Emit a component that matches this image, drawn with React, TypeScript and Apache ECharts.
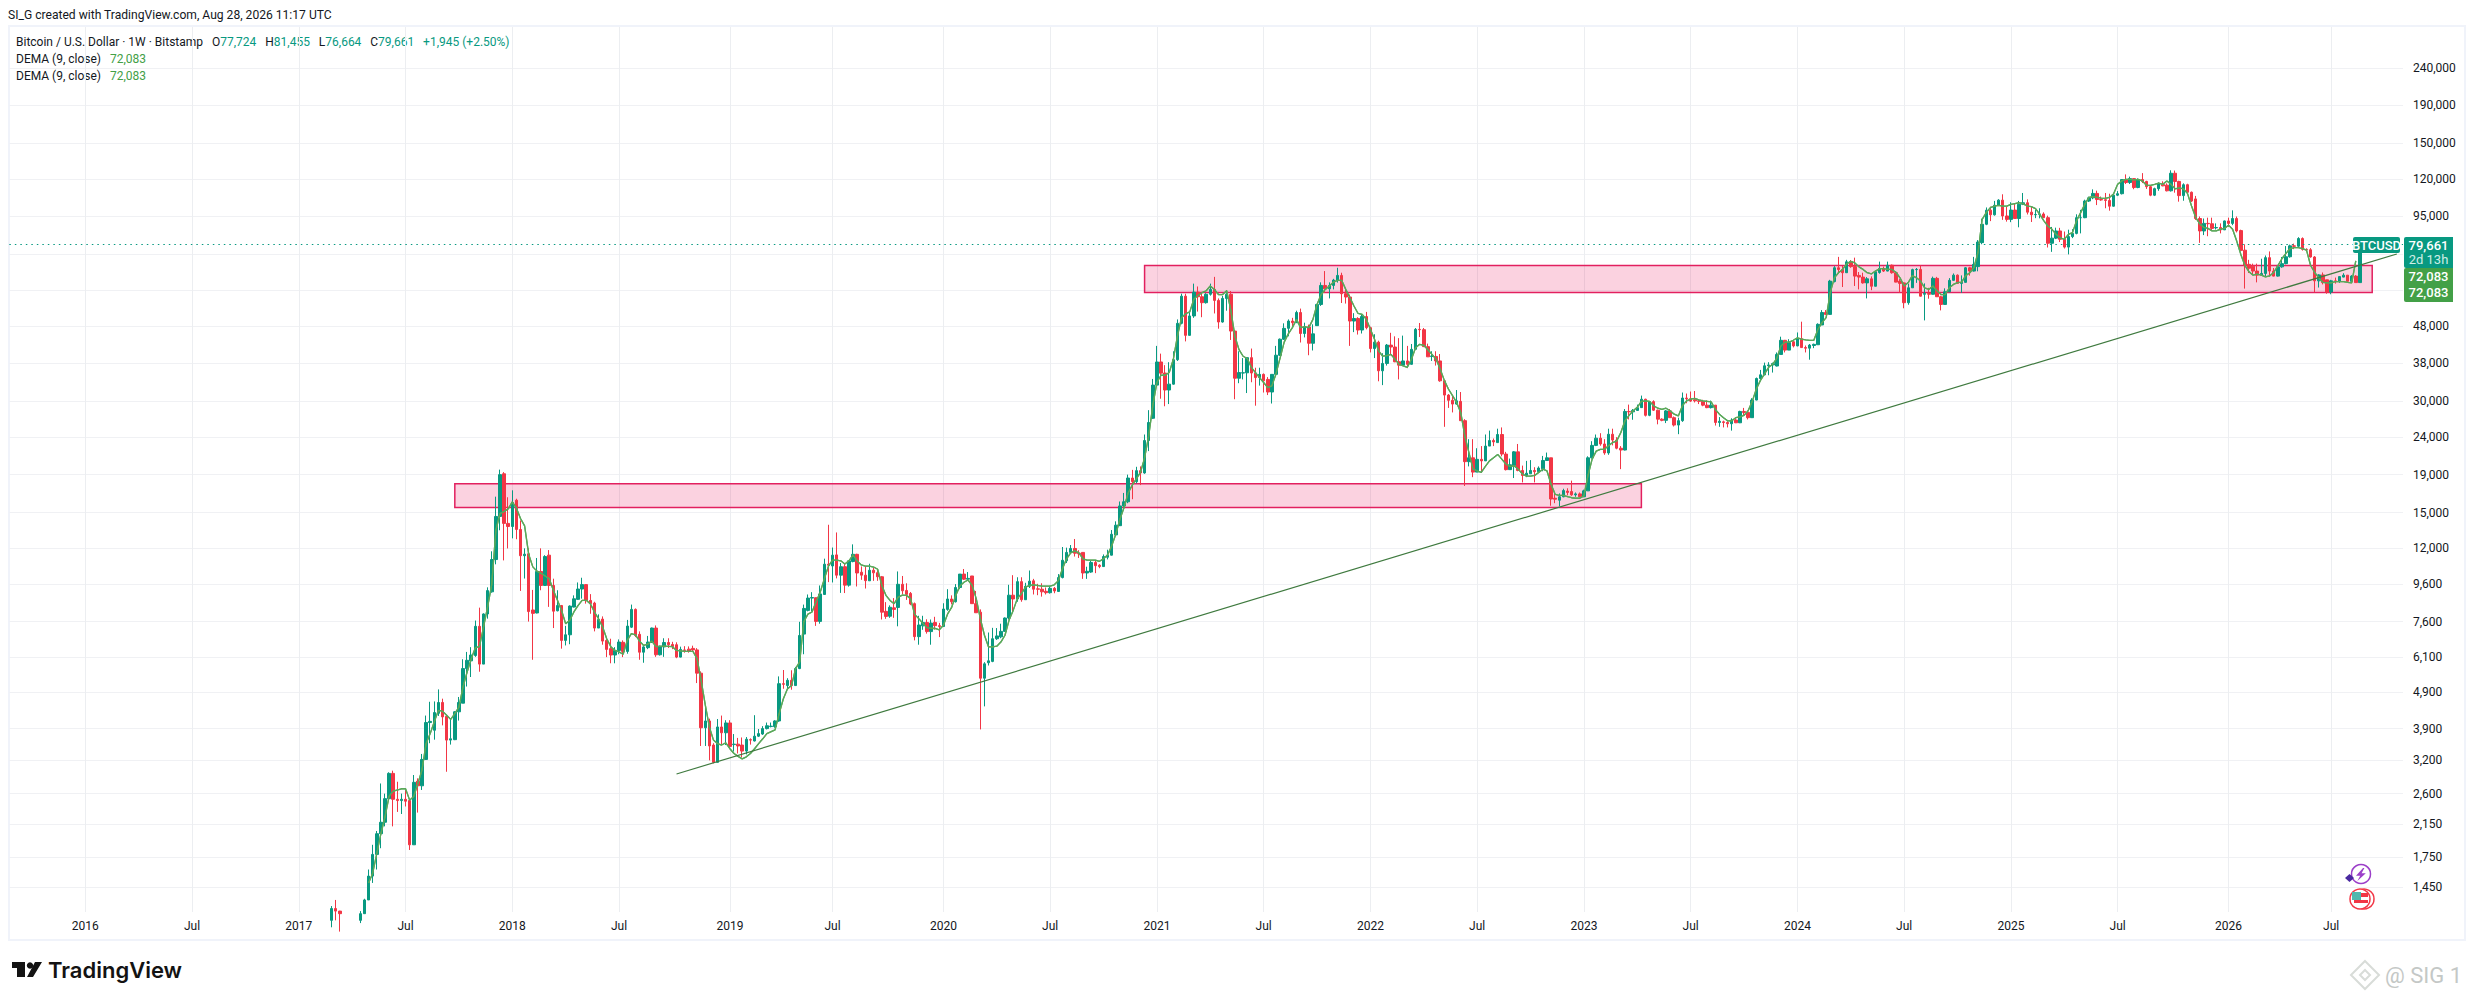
import React, { useEffect, useRef } from "react";
import * as echarts from "echarts";

// Candles: [open, close, low, high], one row per visible week, in order.
const bars2017 = [
[1180,1270,1130,1290],[1270,1250,1180,1340],[1250,1230,1100,1252],[1230,1000,930,1235],[1000,1030,950,1060],[1030,1080,1020,1100],[1080,1180,1060,1200],[1180,1230,1160,1250],
[1230,1340,1230,1350],[1340,1555,1340,1620],[1555,1780,1490,1890],[1780,2025,1620,2060],[2025,2175,1850,2770],[2175,2520,2120,2600],[2520,2950,2500,2970],[2950,2510,2120,3000],
[2510,2490,2320,2800],[2490,2510,2290,2600],[2510,2480,2400,2660],[2490,1890,1830,2520],[1890,2790,1890,2920],[2810,2730,2310,2860],[2730,3218,2660,3330],[3218,4050,3210,4230],
[4050,4080,3560,4610],[3860,4310,3640,4620],[4290,4590,4220,4980],[4590,4195,3980,4700],[4210,3630,2980,4230],[3630,3660,3530,4150],[3640,4330,3630,4350],[4330,4590,4100,4750],
[4570,5670,4570,6010],[5670,5970,5070,6290],[5950,6170,5380,6480],[6150,7380,6100,7650],[7380,5830,5560,8290],[5830,7970,5830,8000],[7970,9220,7740,9410],[9150,11190,9100,11780],
[11190,14640,10860,16560],[14640,19000,13430,19600],[19100,14020,11130,19300],[14020,13750,11990,16500]];
const bars2018 = [
[13750,15950,12770,17230],[16200,13500,12700,16350],[13500,11460,9200,14280],[11460,11570,9940,12000],[11600,8090,7600,12000],[8170,8000,5990,9260],[8020,10390,8000,11300],[10390,9520,9240,12000],
[9520,11400,9500,11500],[11500,9520,8330,11870],[9520,8110,7300,9930],[8130,8400,8100,9240],[8400,6760,6420,8430],[6760,7000,6550,7400],[7000,8370,6600,8410],[8320,8760,8300,8950],
[8730,9310,8700,9700],[9310,9570,8770,9990],[9570,8670,8500,9600],[8670,8500,7980,9020],[8530,7300,7150,8600],[7300,7700,7300,7950],[7720,6730,6580,7850],[6760,6390,6090,6830],
[6420,6170,5860,6830],[6170,6350,5860,6480],[6350,6690,6200,6800],[6680,6310,6090,6760],[6310,7390,6220,7680],[7340,8200,7300,8450],[8200,6970,6900,8250],[7020,6280,5990,7150],
[6280,6490,5880,6520],[6460,6690,6400,6950],[6690,7300,6650,7320],[7300,6180,6100,7420],[6180,6520,6150,6540],[6490,6670,6100,6850],[6670,6580,6450,6850],[6590,6500,6400,6700],
[6580,6090,6050,6680],[6090,6390,6080,6500],[6370,6350,6260,6520],[6400,6320,6260,6510],[6430,6370,6300,6540],[6370,5510,5180,6440],[5510,3920,3500,5570],[3920,4090,3500,4490],
[4090,3500,3200,4150],[3520,3160,3140,3560],[3160,3940,3160,4140],[3940,3800,3530,4230],[3800,4040,3520,4110]];
const bars2019 = [
[4040,3490,3450,4110],[3530,3540,3380,3770],[3540,3500,3340,3680],[3520,3390,3260,3690],[3390,3650,3320,3700],[3640,3630,3530,3670],[3610,3720,3600,4240],[3720,3780,3700,3890],
[3770,3900,3750,3960],[3900,3970,3880,4050],[3950,3960,3930,4050],[3950,4090,3920,4110],[4090,5160,4070,5400],[5160,5140,5000,5620],[5100,5270,5000,5340],[5270,5100,4970,5610],
[5100,5670,5090,5730],[5670,6970,5650,7590],[7030,8250,6200,8450],[8150,8800,8100,9000],[8800,8830,8100,9130],[8820,7610,7400,8820],[7610,9030,7500,9520],[9000,10870,8970,11250],
[10870,10800,9720,13900],[10750,11500,9700,12060],[11520,10150,9950,13250],[10150,10700,9090,10950],[10700,9540,9080,10950],[9540,11100,9450,11100],[11050,11560,11000,12300],[11560,10290,9460,11600],
[10340,10150,9860,10720],[10150,9810,9340,10720],[9800,10470,9800,10900],[10470,10300,9800,10650],[10310,10050,9800,10530],[10050,8060,7700,10100],[8100,7850,7730,8580],[7860,8310,7780,8410],
[8280,8200,7780,8800],[8300,9590,7380,10390],[9590,9210,9000,10100],[9230,9000,8700,9650],[9060,8480,8420,9140],[8500,6920,6760,8560],[6920,7440,6580,7880],[7400,7560,7220,7880],
[7560,7140,7050,7710],[7140,7530,6580,7700],[7560,7410,7230,7830],[7410,7370,6900,7540]];
const bars2020 = [
[7370,8220,7370,8520],[8200,8750,8130,9300],[8750,8600,8460,8950],[8600,9400,8560,9600],[9400,10220,9300,10220],[10220,9900,9850,10550],[9900,9950,9800,10350],[10100,8500,8500,10100],
[8500,8030,8030,9200],[8060,5340,3880,8200],[5340,5840,4480,5900],[5880,5950,5780,7100],[5930,6830,5900,7310],[6830,6950,6780,7300],[6910,7150,6850,7500],[7150,7770,7150,7800],
[7770,8960,7700,9560],[8960,8750,8040,10150],[8750,9750,8600,10020],[9750,8710,8600,10020],[8710,9470,8700,9680],[9470,9780,9370,10450],[9800,9300,9000,9920],[9320,9300,8960,9620],
[9300,9150,8880,9650],[9180,9100,9000,9400],[9100,9350,9050,9500],[9350,9200,9070,9430],[9170,10000,9160,10220],[10000,11140,9950,12100],[11100,11700,10950,12050],[11700,11990,11650,12250],
[11990,11640,11400,12720],[11640,11600,11300,11860],[11700,10290,9920,11700],[10290,10400,9920,10700],[10350,10990,10300,11100],[10990,10770,10280,11100],[10800,10710,10600,10870],[10710,11400,10680,11550],
[11350,11500,11200,11900],[11500,13100,11480,13450],[13050,13860,13000,14200],[13820,15630,13800,16070],[15630,16040,15500,16950],[16040,18600,15900,19000],[18600,18180,16300,19570],[18180,19480,18000,19950]];
const bars2021 = [
[19480,19200,17800,20000],[19200,23500,19100,24400],[23500,26300,22000,28400],[27000,33200,26900,34500],[33200,38350,32900,42400],[38350,35770,30500,40400],[35800,32200,29100,37600],[32200,33400,29500,38300],
[33400,38900,33300,41000],[38900,48800,38600,50000],[48800,57800,48500,58700],[57800,45270,43600,58700],[45270,51100,45300,52100],[51100,59300,50500,62500],[59300,57600,52500,61400],[57600,55500,50700,59400],
[55500,58500,55200,58900],[58500,60300,58000,62500],[60300,56300,51900,65200],[56300,49200,47200,57000],[49200,57000,49000,57900],[57000,58500,52800,60000],[58500,46500,44000,59700],[46500,34660,30400,46800],
[34660,35900,33600,41000],[35800,35850,34400,39300],[35850,39400,31600,39400],[39400,35800,33800,41700],[35800,34800,29200,37000],[34800,35500,33100,37000],[35500,34100,31700,35700],[34400,31800,31200,34900],
[31800,35500,29600,35500],[35500,40000,35200,42400],[40000,44200,39800,44400],[44200,47300,44000,48800],[47300,49500,45000,50000],[49500,49000,47800,50500],[49000,52200,48900,52800],[52200,45800,43300,53500],
[45800,47700,44700,49000],[47700,43100,40000,48400],[43100,45700,41200,48500],[48100,54900,48000,55000],[54900,61800,54400,63000],[61800,60500,59000,67600],[60500,61800,57000,63000],[61800,63900,60300,64400],
[63900,65800,62900,69000],[65800,58700,55400,66900],[58700,57500,55200,60400],[57500,49500,42400,58400]];
const bars2022 = [
[49500,50300,46200,52000],[50300,46800,45500,50700],[46800,50900,45800,51700],[50900,47500,47000,52400],[47500,41700,40700,47800],[41700,43400,39300,45600],[43400,36300,34000,43800],[36300,38000,33200,40500],
[38000,42600,37500,42900],[42600,42100,40000,46000],[42100,38400,38300,45000],[38400,37600,34400,44500],[37600,38600,37400,45200],[38600,37800,36900,42400],[37800,41500,37700,42900],[41500,47000,41500,47400],
[47000,46900,44800,48900],[46900,42200,42100,47400],[42200,39600,39600,43000],[39700,39800,38600,41000],[39700,38600,37500,41000],[38600,34100,33900,40300],[34100,31200,25600,34300],[31200,30200,28800,31400],
[30200,29500,28000,31000],[29500,30100,29400,32200],[30000,26600,26600,31800],[26600,20600,17700,26850],[20600,21100,20000,23700],[21100,19300,18700,23700],[19300,20900,19300,22400],[20900,20700,19200,22700],
[20700,22700,20900,24400],[22700,23500,22700,25000],[23500,23300,22700,23800],[23200,24400,23200,25300],[24400,21600,21300,25500],[21600,19600,19500,21900],[19600,20200,19600,21000],[20100,21900,18600,22000],
[21900,19500,19400,23000],[19500,18900,18100,20100],[18900,19170,18700,20700],[19100,19500,19100,20800],[19500,19350,18100,19900],[19350,19800,19300,20000],[19700,20750,19400,21350],[20750,21100,20700,21800],
[21100,16320,15650,21100],[16400,16300,15900,17000],[16200,16550,15600,16900],[16550,17200,16500,17400],[17150,17000,16700,17450],[17100,16750,16650,18300],[16750,16850,16550,17000],[16850,16550,16500,17000]];
const bars2023 = [
[16550,17170,16500,17300],[17170,21100,17170,21300],[21100,22800,21000,23400],[22800,23850,22700,24400],[23850,23000,22750,24600],[23000,21750,21500,23700],[21750,24440,21500,25300],[24440,23570,22800,25300],
[23570,22400,22250,24000],[22400,22150,19660,22700],[22150,28170,22100,28600],[28170,28100,26800,29400],[28100,28350,26750,28600],[28350,28850,28300,29400],[28850,30400,28800,31100],[30400,27500,27300,30500],
[27500,29950,27350,29950],[29950,28400,28250,30200],[28400,26850,26000,28500],[26850,26650,26500,27000],[26650,28270,26200,28450],[28270,27100,27100,28600],[27100,25880,25650,27300],[25880,26600,24450,27100],
[26600,30630,26400,31700],[30630,30500,29650,31500],[30500,30050,29900,31900],[30300,30100,29800,32000],[30100,30000,29500,30300],[30000,29300,29100,30300],[29300,28850,28750,30200],[28850,29300,28700,30150],
[29300,26300,25800,29300],[26300,26500,25600,27200],[26400,26300,25500,26600],[26300,26100,25500,26500],[26100,26700,25000,27000],[26700,26250,26200,27000],[26250,28170,26200,28300],[28170,28000,27400,28800],
[28000,27100,26800,28300],[27100,30250,27100,30600],[30250,34600,30200,34800],[34600,35400,34500,36500],[35400,37450,35300,38200],[37450,37650,35300,38300],[37650,37970,35900,38200],[37400,40200,37300,40700],
[40200,43900,40200,44900],[43900,41300,40700,44000],[41300,43280,41300,44200],[43500,42400,42000,43750]];
const bars2024 = [
[42400,44350,42300,46100],[44350,41950,41900,49300],[41950,41800,40700,42500],[41800,42600,38900,42900],[42500,42800,41800,43000],[42700,48500,42700,48800],[48300,52200,48300,53000],[52200,51600,51500,53000],
[51600,63500,51600,64000],[63300,69000,63000,69700],[69000,68250,67000,73850],[68250,66900,61200,69800],[66900,71600,66800,72500],[71600,69500,69000,72400],[69500,65500,61600,73500],[65800,65100,60300,67200],
[65100,62800,62500,66900],[62800,64400,57000,65100],[64400,61500,60000,65400],[61500,67300,61400,67700],[67000,68700,66500,71700],[68700,67600,67200,69500],[67600,70100,67500,71700],[70100,66900,66500,70400],
[66900,63100,63000,66900],[63500,62600,59070,64300],[62800,55500,53600,63000],[55500,60900,54800,62500],[60900,68200,60900,68600],[68200,68300,62800,68900],[68300,57800,57700,70000],[58500,58800,49700,62600],
[58800,58500,56900,60900],[58500,64600,58400,65300],[64600,57600,57500,65200],[57600,54900,52900,58000],[54900,59400,54800,60700],[59400,63800,59300,64700],[63800,65900,63600,66600],[65900,62600,62500,66200],
[62600,63000,59000,65800],[63000,69000,62900,69300],[69000,67600,65700,69400],[67600,70500,67400,73850],[69500,81000,67500,82000],[80700,90500,79900,93700],[90500,98800,90000,100500],[98800,96000,92300,101000],
[96000,101900,95500,104700],[101900,105200,101500,105800],[105200,95300,93000,109100]];
const bars2025 = [
[95300,93300,92000,100800],[93300,98900,91700,103800],[98900,93800,93700,103000],[93800,102500,88800,104700],[102500,103500,102000,110000],[103500,97600,96200,105700],[97600,96000,91800,100800],[96000,96200,94000,98900],
[96300,96500,93900,100000],[96500,94300,94200,97500],[94300,80400,78300,95500],[80400,83000,76200,89000],[83000,86800,82500,88600],[86800,82400,81000,88500],[82400,78500,77800,86500],[78500,83800,75000,87500],
[83800,85500,83000,87800],[85500,94300,85000,96300],[94300,94300,85500,99000],[94300,104600,94000,105500],[104600,106700,104000,107500],[106700,109700,105800,112500],[109700,105600,102000,111600],[105600,105300,104800,107600],
[105500,105000,100000,110000],[105000,101300,98500,109500],[101300,108500,101000,109000],[108500,109500,107900,111300],[109500,119600,109000,120000],[119600,117400,116300,123500],[117400,120300,116300,121800],[120300,113800,112600,120500],
[113800,119600,113300,120500],[119600,118200,117000,124500],[118200,114400,112800,118700],[114400,108500,107800,115100],[108500,113000,107900,113700],[113000,116300,111500,117500],[116000,115000,114700,118300],[115500,111500,111100,116800],
[111500,124400,111000,126700],[124400,118200,110200,126500],[118200,108200,104200,118700],[108200,115800,104800,116800],[115800,110500,110000,116500],[110500,104600,104000,111000],[106000,93800,93000,108000],[93800,86800,80600,95000],
[86800,91000,84600,93800],[91000,90800,84000,94300],[90800,88200,87000,94300],[88500,88700,87600,91000]];
const bars2026 = [
[88700,87400,85500,91000],[87400,92400,87300,92600],[92400,91000,89000,94300],[91000,93800,90000,98700],[93800,86800,86000,95000],[87000,76900,76500,87500],[77000,70100,60600,79900],[70500,68800,66800,72500],
[69700,67600,66000,70800],[67600,65900,63000,70800],[65900,66600,65800,73000],[66600,73500,65300,74500],[73500,67600,65300,76400],[67600,65500,65400,68900],[65500,69400,65300,70000],[69400,70800,69000,73800],
[70800,73900,70500,79000],[73900,79100,73500,79700],[79100,78900,77500,80200],[78900,82800,78500,83500],[82800,77400,76800,83400],[77400,77200,76400,77900],[77200,73800,73500,78000],[73800,63600,59300,74200],
[63600,66000,61000,66300],[66000,62900,62200,67000],[64000,59300,58700,64000],[59300,63600,58500,64000],[63600,63300,62500,64900],[63300,65300,62800,65500],[65100,65900,65000,66700],[65900,63400,63300,65900],
[63400,65500,63000,65900],[65500,62900,62800,65900],[62900,77716,62800,78000],[77724,79661,76664,81455]];

// DEMA (9, close): [week number, value].
const dema2017 = [[86,1490],[87,1583],[89,2025],[90,2250],[91,2560],[92,2640],[94,2680],[95,2680],[96,2497],[97,2555],[98,2770],[99,3010],[100,3550],[101,3780],[102,4070],[103,4370],[104,4350],[105,4240],[106,4130],[107,4280],[108,4460],[109,5060],[110,5550],[111,6030],[112,6460],[113,6500],[114,7350],[115,8340],[116,9600],[117,13430],[118,14900],[119,15100],[120,15350]];
const dema2018 = [[121,16030],[122,15420],[123,14450],[124,13800],[125,11550],[126,10690],[127,10410],[128,10270],[130,9930],[131,9240],[132,8680],[133,8150],[134,7500],[135,7660],[136,8070],[137,8400],[138,8680],[139,8680],[140,8500],[141,8070],[142,7740],[143,7350],[144,6830],[145,6500],[146,6350],[147,6290],[148,6200],[149,6760],[150,7050],[151,7000],[152,6730],[153,6550],[154,6600],[155,6730],[156,6500],[158,6520],[160,6500],[161,6350],[163,6310],[165,6310],[166,6030],[167,5270],[168,4520],[169,3940],[170,3630],[171,3550],[172,3520],[173,3570]];
const dema2019 = [[174,3440],[175,3340],[176,3280],[177,3230],[178,3270],[179,3340],[180,3440],[181,3550],[182,3660],[183,3780],[185,3870],[186,4280],[187,4690],[188,4990],[189,5100],[190,5670],[191,5910],[192,7590],[193,7960],[194,8070],[195,8600],[196,9130],[197,9920],[198,10740],[199,11150],[200,11150],[201,11100],[202,10880],[203,11100],[204,11520],[205,11100],[206,10820],[207,10740],[208,10740],[209,10680],[210,10530],[211,9520],[212,8950],[213,8670],[214,8500],[215,8850],[216,8960],[217,8950],[218,8770],[219,7950],[220,7740],[221,7520],[222,7320],[223,7290],[224,7280],[225,7220]];
const dema2020 = [[226,7430],[227,7960],[228,8300],[229,8950],[230,9480],[231,9710],[232,9850],[233,9520],[234,8770],[235,7740],[236,6980],[237,6490],[238,6490],[239,6520],[240,6690],[241,6980],[242,7670],[243,8150],[244,8770],[245,9040],[246,9420],[247,9520],[248,9560],[250,9480],[252,9480],[253,9560],[254,9810],[255,10560],[256,11240],[257,11660],[258,11810],[259,11660],[260,11240],[261,11150],[262,11150],[263,11150],[264,11070],[265,11240],[266,11520],[267,12200],[268,13120],[269,14390],[270,15480],[271,16950],[272,17800]];
const dema2021 = [[274,19270],[275,21100],[276,24200],[277,29200],[278,33750],[279,35300],[280,35300],[281,35900],[282,39000],[283,45060],[284,50550],[285,51800],[286,52400],[287,56700],[288,58100],[289,59070],[290,59800],[291,61570],[292,60300],[293,58400],[294,58400],[295,59800],[296,53000],[297,45060],[298,41400],[299,39750],[300,39200],[301,37100],[302,35900],[303,34800],[304,33750],[305,32700],[306,33050],[307,35600],[308,39300],[309,43400],[310,45700],[311,47500],[312,50030],[313,47500],[314,47800],[315,47500],[316,50030],[317,54900],[318,58400],[319,60300],[320,61570],[321,63100],[322,63800],[323,63800],[324,60300],[325,57300]];
const dema2022 = [[326,54360],[327,51900],[328,51600],[329,50030],[330,47000],[331,44200],[332,41100],[333,39750],[334,39900],[335,40200],[336,39000],[337,37800],[338,37440],[339,37100],[340,39000],[341,41900],[342,42800],[343,42550],[344,41400],[345,40200],[346,39000],[347,36700],[348,34200],[349,32400],[350,31100],[351,29800],[352,28000],[353,24200],[354,21800],[355,19660],[356,19460],[357,19270],[358,20000],[359,20700],[360,21100],[361,21550],[362,20920],[363,20300],[364,20000],[365,20080],[366,19660],[367,19100],[368,18820],[369,18820],[370,18900],[371,19270],[372,19660],[373,19460],[374,17900],[375,16800],[376,16700],[377,16700],[378,16560],[379,16450],[380,16400],[381,16400]];
const dema2023 = [[382,16640],[383,18900],[384,20920],[385,22000],[386,22250],[387,22250],[388,22750],[389,23200],[390,23450],[391,24710],[392,26580],[393,27480],[394,28300],[395,28900],[396,30000],[397,30100],[398,30000],[399,29200],[400,28750],[401,28550],[402,28750],[403,28300],[404,27700],[405,27400],[406,29200],[407,30100],[408,30430],[409,30560],[410,30300],[411,30100],[412,30000],[413,29900],[414,28550],[415,27700],[416,27100],[417,26580],[418,26580],[419,27100],[420,27250],[421,27500],[422,28300],[423,30000],[424,32400],[425,34200],[426,35600],[427,37100],[428,37800],[429,39300],[430,42400],[431,43400],[432,43400],[433,43900]];
const dema2024 = [[434,44600],[435,44200],[436,44000],[437,43900],[438,43900],[439,47000],[440,49000],[441,50550],[442,59070],[443,64800],[444,66900],[445,68300],[446,70700],[447,71800],[448,71100],[449,69400],[450,68300],[451,66900],[452,66400],[453,67600],[454,68600],[455,68600],[456,68300],[457,68300],[458,67100],[459,64800],[460,61570],[461,62900],[462,65700],[463,64800],[464,63500],[465,60900],[466,60300],[467,61570],[468,59800],[469,58400],[470,58400],[471,60900],[472,62200],[473,62900],[474,63100],[475,65700],[476,66900],[477,69100],[478,76000],[479,93300],[480,97300],[481,100400],[482,101400],[483,101800],[484,101400],[485,101400]];
const dema2025 = [[486,102500],[487,103000],[488,103500],[489,102800],[490,101400],[491,101000],[492,99800],[493,96400],[494,92600],[495,89500],[496,87700],[497,85000],[498,83200],[499,82400],[500,85000],[501,85900],[502,92600],[503,97300],[504,102500],[505,107000],[506,107500],[507,107000],[508,106500],[509,106300],[510,107000],[511,109300],[512,116100],[513,118600],[514,119800],[515,119800],[516,119300],[517,119800],[518,118600],[519,115400],[520,115400],[521,116100],[522,116900],[523,116100],[524,118600],[525,116100],[526,112900],[527,113600],[528,112900],[529,109700],[530,101400],[531,94500],[532,90700],[533,88800],[534,88200],[535,86800],[536,86800],[537,87700]];
const dema2026 = [[538,88200],[539,90000],[540,87700],[541,81500],[542,75000],[543,70000],[544,67300],[545,65900],[546,66300],[547,65900],[548,65200],[549,65600],[550,67000],[551,69800],[552,73000],[553,75500],[554,77800],[555,78200],[556,78200],[557,77800],[558,77000],[559,70000],[560,67000],[561,64800],[562,63000],[563,62800],[564,62800],[565,63300],[566,63300],[567,63300],[568,63000],[569,62800],[570,72083]];

// Axis content
const priceTicks = [240000,190000,150000,120000,95000,75000,60000,48000,38000,30000,24000,19000,15000,12000,9600,7600,6100,4900,3900,3200,2600,2150,1750,1450];
const priceLabels = [240000,190000,150000,120000,95000,48000,38000,30000,24000,19000,15000,12000,9600,7600,6100,4900,3900,3200,2600,2150,1750,1450];
const timeLabels = ["2016","Jul","2017","Jul","2018","Jul","2019","Jul","2020","Jul","2021","Jul","2022","Jul","2023","Jul","2024","Jul","2025","Jul","2026","Jul"];
const timeSlots = [18,44,70,96,122,148,175,200,227,253,279,305,331,357,383,409,435,461,487,513,540,565];

// Drawings
const supplyBandLow = { from: 108, to: 397, top: 17950, bottom: 15470 };
const supplyBandHigh = { from: 276, to: 575, top: 70000, bottom: 59100 };
const trendLine = [[162, 2939], [581, 75190]];
const lastClose = 79661;

const SLOT_COUNT = 583;
const BLANK_WEEKS = 78;
const UP = "#089981";
const DOWN = "#f23645";
const GRID = "#f0f1f4";
const TEXT = "#131722";
const FONT = "Roboto, 'Noto Sans', sans-serif";

echarts.graphic.registerShape("tvMark", echarts.graphic.extendPath(
  "M0 0H13V15H5V6H0Z M15 15L23 0H30L21 15Z", {}) as any);
echarts.graphic.registerShape("boltMark", echarts.graphic.extendPath(
  "M5 0L0 6H3L1 10L7 4H4L6 0Z", {}) as any);

export default function App() {
  const ref = useRef<HTMLDivElement>(null);
  useEffect(() => {
    document.body.style.margin = "0";
    document.body.style.overflow = "hidden";
    const chart = echarts.init(ref.current!, null, { renderer: "svg" });
    const rows = [...bars2017, ...bars2018, ...bars2019, ...bars2020, ...bars2021, ...bars2022, ...bars2023, ...bars2024, ...bars2025, ...bars2026];
    const blanks = Array.from({ length: BLANK_WEEKS }, () => ["-", "-", "-", "-"]);
    const dema = [...dema2017, ...dema2018, ...dema2019, ...dema2020, ...dema2021, ...dema2022, ...dema2023, ...dema2024, ...dema2025, ...dema2026]
      .map(([w, v]) => [w + 1, v]);
    const names = Array.from({ length: SLOT_COUNT }, (_, i) => {
      const k = timeSlots.indexOf(i);
      return k >= 0 ? timeLabels[k] : "w" + i;
    });
    const showSlot = (i: number) => timeSlots.includes(i);
    const line = (text: string, y: number) => ({
      type: "text", x: 16, y,
      style: {
        text,
        verticalAlign: "middle",
        font: `12px ${FONT}`,
        rich: {
          k: { fill: TEXT, font: `12px ${FONT}` },
          v: { fill: UP, font: `12px ${FONT}` },
          g: { fill: "#43a047", font: `12px ${FONT}` },
        },
      },
    });
    const tagText = (text: string, x: number, y: number, fill = "#fff", weight = 500) => ({
      type: "text", x, y, z: 30,
      style: { text, fill, align: "center", verticalAlign: "middle", font: `${weight} 13px ${FONT}` },
    });
    chart.setOption({
      animation: false,
      backgroundColor: "#ffffff",
      grid: { left: 9.34, right: 72, top: 27, bottom: 88, containLabel: false },
      xAxis: {
        type: "category",
        data: names,
        boundaryGap: true,
        axisLine: { show: false },
        axisTick: { show: false, alignWithLabel: true, interval: (i: number) => showSlot(i) },
        axisLabel: {
          interval: (i: number) => showSlot(i),
          margin: 8,
          color: TEXT,
          fontFamily: FONT,
          fontSize: 12,
          hideOverlap: false,
        },
        splitLine: { show: true, alignWithLabel: true, interval: (i: number) => showSlot(i), lineStyle: { color: "#eceef1", width: 1 } },
      },
      yAxis: {
        type: "log",
        logBase: 10,
        position: "right",
        min: 1243,
        max: 309600,
        axisLine: { show: false },
        axisTick: { show: false, customValues: priceTicks },
        axisLabel: {
          customValues: priceLabels,
          margin: 10,
          color: TEXT,
          fontFamily: FONT,
          fontSize: 12,
          formatter: (v: number) => Math.round(v).toLocaleString("en-US"),
        },
        splitLine: { show: true, lineStyle: { color: GRID, width: 1 } },
      },
      series: [
        {
          type: "candlestick",
          name: "BTCUSD",
          barWidth: 3,
          clip: true,
          large: false,
          progressive: 0,
          itemStyle: { color: UP, color0: DOWN, borderColor: UP, borderColor0: DOWN, borderWidth: 1 },
          data: [...blanks, ...rows],
          markArea: {
            silent: true,
            itemStyle: { color: "rgba(233,30,99,0.2)", borderColor: "#e2205f", borderWidth: 1.5 },
            data: [
              [{ xAxis: supplyBandLow.from, yAxis: supplyBandLow.top }, { xAxis: supplyBandLow.to, yAxis: supplyBandLow.bottom }],
              [{ xAxis: supplyBandHigh.from, yAxis: supplyBandHigh.top }, { xAxis: supplyBandHigh.to, yAxis: supplyBandHigh.bottom }],
            ],
          },
          markLine: {
            silent: true,
            symbol: "none",
            label: { show: false },
            lineStyle: { color: UP, type: [1.5, 4], width: 1 },
            data: [{ yAxis: lastClose }],
          },
        },
        { type: "line", name: "DEMA (9, close)", showSymbol: false, z: 3, lineStyle: { color: "#5aa85a", width: 1.3 }, data: dema },
        { type: "line", name: "DEMA (9, close) 2", showSymbol: false, z: 3, lineStyle: { color: "#5aa85a", width: 1.3 }, data: dema },
        { type: "line", name: "Trend", showSymbol: false, z: 4, lineStyle: { color: "#3f7a3f", width: 1.2 }, data: trendLine },
      ],
      graphic: [
        { type: "rect", z: -1, silent: true, shape: { x: 9, y: 26, width: 2456, height: 914 }, style: { fill: "none", stroke: "#f0f3fa", lineWidth: 2 } },
        { type: "text", x: 8, y: 15, style: { text: "SI_G created with TradingView.com, Aug 28, 2026 11:17 UTC", fill: TEXT, verticalAlign: "middle", font: `12.1px ${FONT}` } },
        line("{k|Bitcoin / U.S. Dollar · 1W · Bitstamp   O}{v|77,724}{k|   H}{v|81,455}{k|   L}{v|76,664}{k|   C}{v|79,661}{v|   +1,945 (+2.50%)}", 42),
        line("{k|DEMA (9, close)   }{g|72,083}", 59),
        line("{k|DEMA (9, close)   }{g|72,083}", 76),
        // last price tags on the scale
        { type: "rect", z: 29, shape: { x: 2404, y: 237, width: 49, height: 31, r: [2, 0, 0, 2] }, style: { fill: UP } },
        { type: "rect", z: 29, shape: { x: 2404, y: 268, width: 49, height: 34, r: [2, 0, 0, 2] }, style: { fill: "#43a047" } },
        { type: "rect", z: 29, shape: { x: 2353, y: 237, width: 47, height: 16, r: 2 }, style: { fill: UP } },
        tagText("BTCUSD", 2376.5, 245.5),
        tagText("79,661", 2428.5, 245),
        tagText("2d 13h", 2428.5, 259, "#cfeee6", 400),
        tagText("72,083", 2428.5, 276),
        tagText("72,083", 2428.5, 292.5),
        // TradingView logo
        { type: "tvMark", x: 12, y: 962, style: { fill: "#131313" } },
        { type: "circle", shape: { cx: 30, cy: 965.5, r: 3.2 }, style: { fill: "#131313" } },
        { type: "text", x: 48, y: 970, style: { text: "TradingView", fill: "#131313", verticalAlign: "middle", font: `600 22px Inter, sans-serif` } },
        // watermark
        { type: "polygon", shape: { points: [[2365, 961], [2379, 975], [2365, 989], [2351, 975]] }, style: { fill: "none", stroke: "#d8dcd8", lineWidth: 2 } },
        { type: "polygon", shape: { points: [[2365, 970], [2370, 975], [2365, 980], [2360, 975]] }, style: { fill: "none", stroke: "#d8dcd8", lineWidth: 2 } },
        { type: "text", x: 2385, y: 975, style: { text: "@ SIG 1", fill: "#c4c8c6", verticalAlign: "middle", font: `22px ${FONT}` } },
        // event icons
        { type: "circle", z: 20, shape: { cx: 2361, cy: 874, r: 9.5 }, style: { fill: "#fff", stroke: "#9c3fc9", lineWidth: 1.5 } },
        { type: "boltMark", z: 21, x: 2356, y: 868, scaleX: 1.4, scaleY: 1.3, style: { fill: "#9c3fc9" } },
        { type: "polygon", z: 22, shape: { points: [[2349.5, 874], [2354, 878], [2349.5, 882], [2345, 878]] }, style: { fill: "#4a2aa0" } },
        { type: "circle", z: 20, shape: { cx: 2364, cy: 899, r: 10 }, style: { fill: "#fff", stroke: "#f23645", lineWidth: 1.5 } },
        { type: "circle", z: 21, shape: { cx: 2360, cy: 899, r: 10 }, style: { fill: "#fff", stroke: "#f23645", lineWidth: 1.5 } },
        { type: "rect", z: 22, shape: { x: 2354, y: 893, width: 14, height: 4 }, style: { fill: "#f23645" } },
        { type: "rect", z: 22, shape: { x: 2354, y: 900, width: 14, height: 3 }, style: { fill: "#f23645" } },
        { type: "rect", z: 23, shape: { x: 2352, y: 892, width: 9, height: 8 }, style: { fill: "#4fb8ae" } },
      ],
    });
    return () => chart.dispose();
  }, []);
  return <div ref={ref} style={{ position: "fixed", left: 0, top: 0, width: 2475, height: 1000 }} />;
}
